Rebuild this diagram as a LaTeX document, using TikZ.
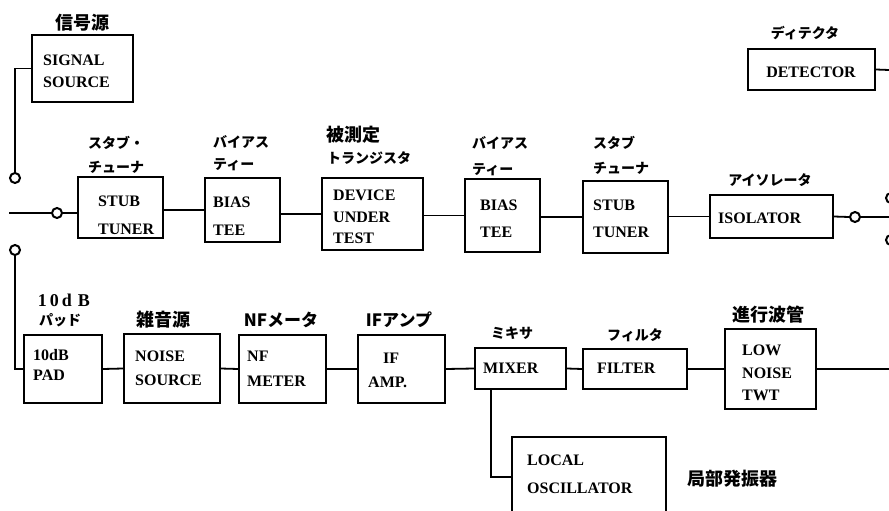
\documentclass[tikz,border=0pt]{standalone}
\usepackage{fontspec}
\setmainfont{Liberation Serif}
\newfontfamily\jp{Noto Sans CJK JP}
\begin{document}
\begin{tikzpicture}[x=1pt,y=-1pt,
  blk/.style={draw, line width=1.8pt, inner sep=0pt},
  tx/.style={font=\fontsize{16}{18}\selectfont\bfseries, inner sep=0pt, anchor=west},
  txc/.style={font=\fontsize{16}{18}\selectfont\bfseries, inner sep=0pt},
  jl/.style={font=\jp\bfseries\fontsize{14}{16}\selectfont, inner sep=0pt},
  jlw/.style={jl, anchor=west},
  jk/.style={font=\jp\bfseries\fontsize{18}{20}\selectfont, inner sep=0pt},
  term/.style={circle, draw, line width=2pt, fill=white, inner sep=0pt, minimum size=10pt},
  wire/.style={line width=1.8pt}]
\path[use as bounding box] (0,0) rectangle (889,511);

% ---- boxes ----
\node[blk, minimum width=101pt, minimum height=67pt] (ss)  at (82.5,68.5) {};
\node[blk, minimum width=127pt, minimum height=41pt] (det) at (811.5,69.5) {};
\node[blk, minimum width=85pt,  minimum height=61pt] (st1) at (120.5,207.5) {};
\node[blk, minimum width=75pt,  minimum height=64pt] (bt1) at (242.5,210) {};
\node[blk, minimum width=101pt, minimum height=72pt] (dut) at (372.5,214) {};
\node[blk, minimum width=75pt,  minimum height=73pt] (bt2) at (502.5,215.5) {};
\node[blk, minimum width=85pt,  minimum height=72pt] (st2) at (625.5,217) {};
\node[blk, minimum width=123pt, minimum height=43pt] (iso) at (771.5,216.5) {};
\node[blk, minimum width=78pt,  minimum height=68pt] (pad) at (63,369) {};
\node[blk, minimum width=96pt,  minimum height=69pt] (ns)  at (172,368.5) {};
\node[blk, minimum width=87pt,  minimum height=68pt] (nf)  at (282.5,369) {};
\node[blk, minimum width=87pt,  minimum height=68pt] (ifa) at (401.5,369) {};
\node[blk, minimum width=91pt,  minimum height=41pt] (mix) at (520.5,368.5) {};
\node[blk, minimum width=104pt, minimum height=40pt] (fil) at (635,369) {};
\node[blk, minimum width=91pt,  minimum height=80pt] (twt) at (770.5,369) {};
\node[blk, minimum width=154pt, minimum height=80pt] (lo)  at (589,477) {};

% ---- box texts ----
\node[tx] at (43,60) {SIGNAL};
\node[tx] at (43,82) {SOURCE};
\node[txc] at (811,72) {DETECTOR};
\node[tx] at (98,201) {STUB};
\node[tx] at (98,229) {TUNER};
\node[tx] at (213,202) {BIAS};
\node[tx] at (213,230) {TEE};
\node[tx] at (333,195) {DEVICE};
\node[tx] at (333,217) {UNDER};
\node[tx] at (333,238) {TEST};
\node[tx] at (480,205) {BIAS};
\node[tx] at (480,232) {TEE};
\node[tx] at (593,205) {STUB};
\node[tx] at (593,232) {TUNER};
\node[tx] at (718,218) {ISOLATOR};
\node[tx] at (33,355) {10dB};
\node[tx] at (33,375) {PAD};
\node[tx] at (135,356) {NOISE};
\node[tx] at (135,380) {SOURCE};
\node[tx] at (247,356) {NF};
\node[tx] at (247,381) {METER};
\node[tx] at (383,358) {IF};
\node[tx] at (368,382) {AMP.};
\node[tx] at (483,368) {MIXER};
\node[tx] at (597,368) {FILTER};
\node[tx] at (742,350) {LOW};
\node[tx] at (742,373) {NOISE};
\node[tx] at (742,395) {TWT};
\node[tx] at (527,460) {LOCAL};
\node[tx] at (527,488) {OSCILLATOR};

% ---- labels ----
\node[jk] at (82,23) {信号源};
\node[jl] at (805,33) {ディテクタ};
\node[jlw] at (88,143) {スタブ・};
\node[jlw] at (88,167) {チューナ};
\node[jlw] at (213,142) {バイアス};
\node[jlw] at (213,165) {ティー};
\node[jk] at (353,135) {被測定};
\node[jl] at (369,158) {トランジスタ};
\node[jlw] at (472,143) {バイアス};
\node[jlw] at (472,170) {ティー};
\node[jlw] at (593,143) {スタブ};
\node[jlw] at (593,168) {チューナ};
\node[jl] at (770,180) {アイソレータ};
\node[font=\fontsize{18}{20}\selectfont\bfseries, inner sep=0pt] at (64,300) {1\,0\,d\,\,B};
\node[jl] at (60,320) {パッド};
\node[jk] at (163,320) {雑音源};
\node[font=\jp\bfseries\fontsize{17}{20}\selectfont, inner sep=0pt] at (281,320) {NFメータ};
\node[font=\jp\bfseries\fontsize{17}{20}\selectfont, inner sep=0pt] at (399,320) {IFアンプ};
\node[jl] at (512,333) {ミキサ};
\node[jl] at (635,335) {フィルタ};
\node[jk] at (768,315) {進行波管};
\node[jk] at (732,479) {局部発振器};

% ---- terminals ----
\node[term] (ctop) at (15,178) {};
\node[term] (cbot) at (15,250) {};
\node[term] (cin)  at (57,213) {};
\node[term] (cout) at (855,217) {};
\node[term] (rt1)  at (891,198) {};
\node[term] (rt2)  at (891,240) {};
\coordinate (min) at (9,213);
\coordinate (mout) at (889,217);
\coordinate (dout) at (889,70);
\coordinate (bout) at (889,369);

% ---- connectors ----
\draw[wire] (ss.west) -| (ctop.north);
\draw[wire] (min) -- (cin.west);
\draw[wire] (cin.east) -- (cin.east -| st1.west);
\draw[wire] (st1.east |- bt1.west) -- (bt1.west);
\draw[wire] (bt1.east |- dut.west) -- (dut.west);
\draw[wire] (dut.east |- bt2.west) -- (bt2.west);
\draw[wire] (bt2.east |- st2.west) -- (st2.west);
\draw[wire] (st2.east |- iso.west) -- (iso.west);
\draw[wire] (iso.east) -- (cout.west);
\draw[wire] (cout.east) -- (mout);
\draw[wire] (det.east) -- (dout);
\draw[wire] (cbot.south) |- (pad.west);
\draw[wire] (pad.east) -- (ns.west);
\draw[wire] (ns.east) -- (nf.west);
\draw[wire] (nf.east) -- (ifa.west);
\draw[wire] (ifa.east) -- (mix.west);
\draw[wire] (mix.east) -- (fil.west);
\draw[wire] (fil.east) -- (twt.west);
\draw[wire] (twt.east) -- (bout);
\draw[wire] ([xshift=-29.5pt]mix.south) |- (lo.west);
\end{tikzpicture}
\end{document}
